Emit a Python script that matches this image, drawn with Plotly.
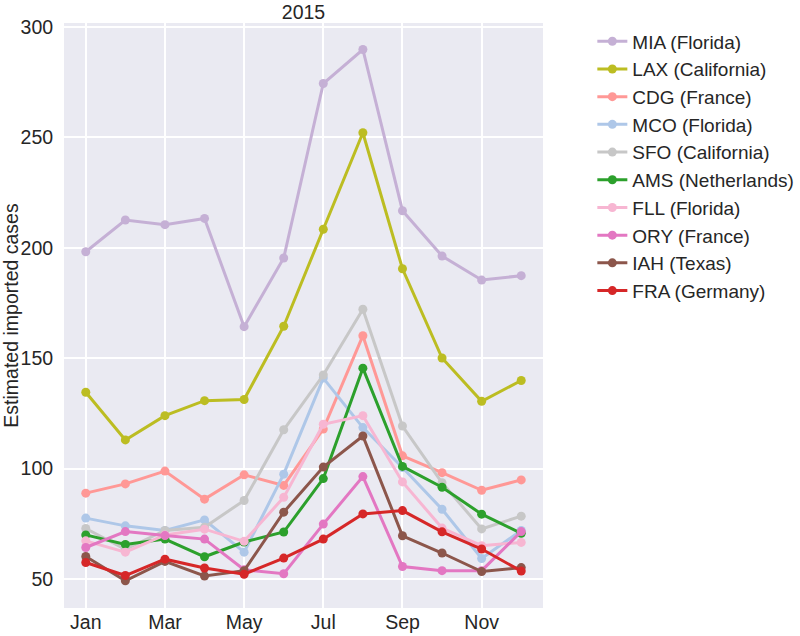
import plotly.graph_objects as go

months = ["Jan", "Feb", "Mar", "Apr", "May", "Jun", "Jul", "Aug", "Sep", "Oct", "Nov", "Dec"]
tick_months = ["Jan", "Mar", "May", "Jul", "Sep", "Nov"]

mia = [198.2, 212.6, 210.5, 213.3, 164.3, 195.4, 274.4, 289.8, 216.8, 196.3, 185.4, 187.4]
lax = [134.6, 113.0, 124.0, 130.8, 131.3, 164.5, 208.4, 252.1, 190.5, 150.1, 130.5, 139.9]
cdg = [88.9, 93.1, 98.9, 86.2, 97.2, 92.4, 117.9, 160.2, 105.8, 98.2, 90.2, 94.9]
mco = [77.6, 74.1, 72.0, 76.8, 62.2, 97.5, 141.0, 118.6, 100.5, 81.6, 59.3, 72.0]
sfo = [72.9, 63.5, 72.0, 73.5, 85.6, 117.6, 142.4, 172.2, 119.3, 93.6, 72.7, 78.5]
ams = [70.0, 65.7, 68.1, 60.1, 66.8, 71.3, 95.5, 145.5, 101.0, 91.6, 79.4, 70.7]
fll = [67.3, 62.2, 70.0, 72.6, 67.1, 87.0, 120.1, 124.0, 94.0, 73.1, 65.1, 66.6]
ory = [64.3, 71.5, 69.7, 68.1, 54.2, 52.4, 74.9, 96.4, 55.7, 53.8, 53.8, 71.5]
iah = [60.2, 49.2, 58.0, 51.4, 53.8, 80.3, 100.7, 114.8, 69.6, 61.8, 53.4, 55.2]
fra = [57.5, 51.6, 59.0, 55.0, 52.2, 59.5, 68.1, 79.5, 81.0, 71.4, 63.6, 53.6]

series = [
    ("MIA (Florida)", mia, "#c5b0d5"),
    ("LAX (California)", lax, "#bcbd22"),
    ("CDG (France)", cdg, "#ff9896"),
    ("MCO (Florida)", mco, "#aec7e8"),
    ("SFO (California)", sfo, "#c7c7c7"),
    ("AMS (Netherlands)", ams, "#2ca02c"),
    ("FLL (Florida)", fll, "#f7b6d2"),
    ("ORY (France)", ory, "#e377c2"),
    ("IAH (Texas)", iah, "#8c564b"),
    ("FRA (Germany)", fra, "#d62728"),
]

FONT = "Liberation Sans, Arial, sans-serif"
FS = 19.5
TXT = "#262626"
x = list(range(len(months)))

W, H = 800, 636
L, T, R, B = 64, 23, 257, 28

fig = go.Figure()
for name, vals, color in series:
    fig.add_trace(go.Scatter(
        x=x, y=vals, name=name, mode="lines+markers",
        line=dict(color=color, width=3),
        marker=dict(color=color, size=9),
    ))

fig.update_layout(
    width=W, height=H,
    margin=dict(l=L, r=R, t=T, b=B, autoexpand=False),
    plot_bgcolor="#EAEAF2",
    paper_bgcolor="white",
    font=dict(family=FONT, size=FS, color=TXT),
    title=dict(text="2015", x=(L + (W - R)) / 2 / W, xanchor="center",
               y=1 - 12 / H, yanchor="middle",
               font=dict(family=FONT, size=FS, color=TXT)),
    legend=dict(x=1.103, xanchor="left", y=1.001, yanchor="top",
                font=dict(family=FONT, size=19, color=TXT),
                bgcolor="rgba(0,0,0,0)", tracegroupgap=0),
    showlegend=True,
)
fig.update_xaxes(
    range=[-0.55, 11.55],
    tickvals=[0, 2, 4, 6, 8, 10], ticktext=tick_months,
    showgrid=True, gridcolor="white", gridwidth=1.5,
    zeroline=False, showline=False, automargin=False,
    ticks="",
    tickfont=dict(family=FONT, size=FS, color=TXT),
)
fig.update_yaxes(
    range=[36.9, 301.8],
    tickvals=[50, 100, 150, 200, 250, 300],
    showgrid=True, gridcolor="white", gridwidth=1.5,
    zeroline=False, showline=False, automargin=False,
    ticks="outside", ticklen=6, tickcolor="rgba(0,0,0,0)",
    tickfont=dict(family=FONT, size=FS, color=TXT),
    title=dict(text="Estimated imported cases", standoff=2,
               font=dict(family=FONT, size=FS, color=TXT)),
)

fig.write_html("out.html", config={"displayModeBar": False},
               post_script="document.body.style.margin='0px';")
